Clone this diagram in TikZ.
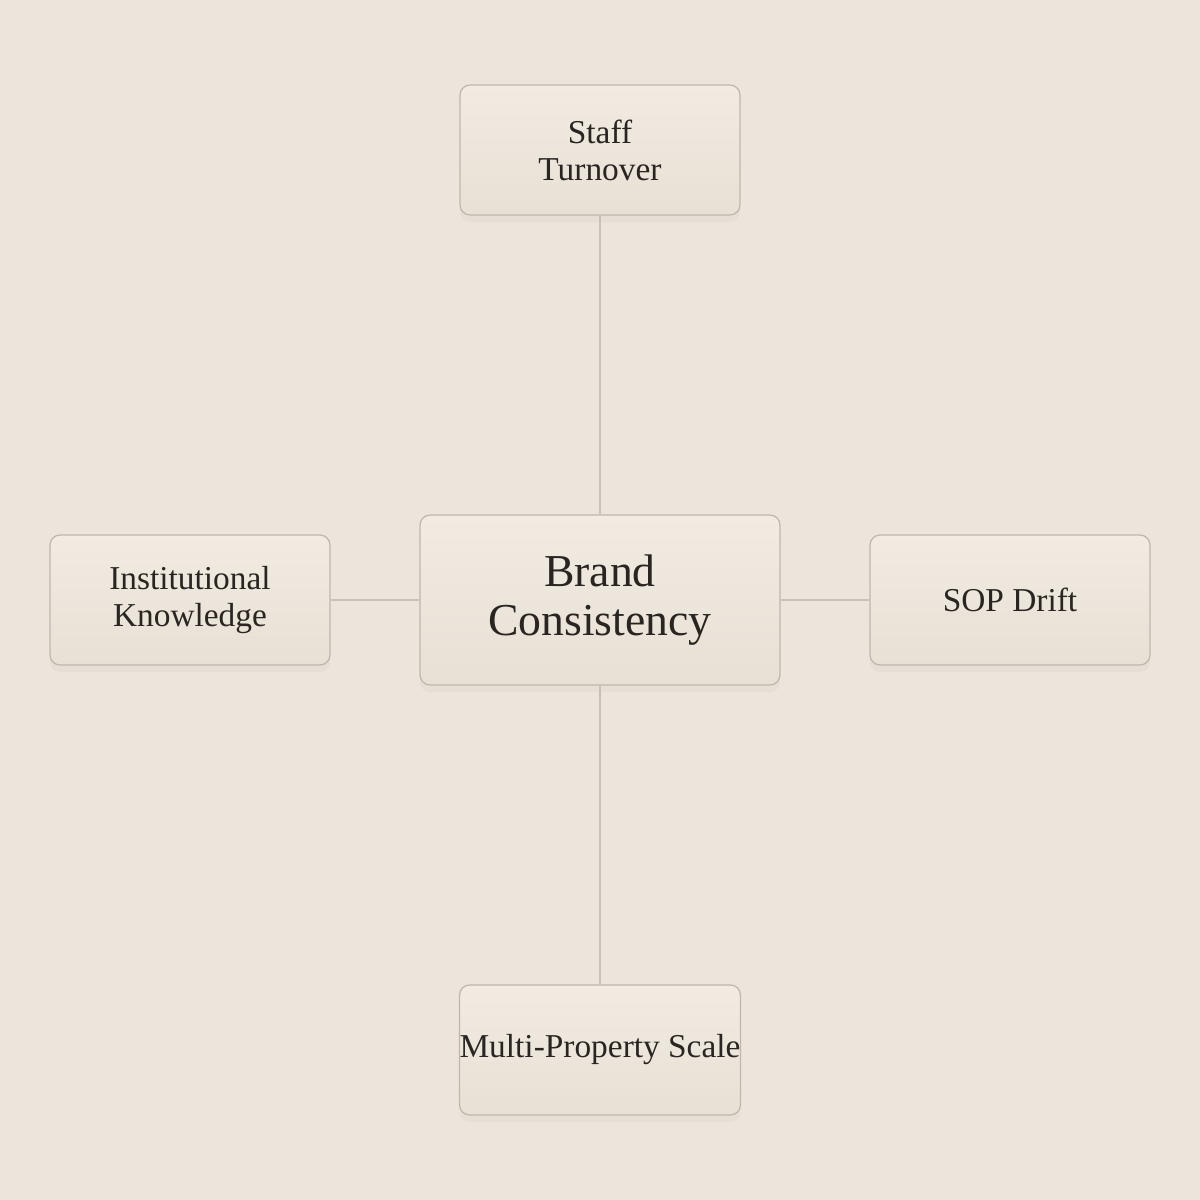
\documentclass[tikz,border=0pt]{standalone}
\usepackage{fontspec}
\setmainfont{Liberation Serif}
\usetikzlibrary{positioning,shadows}

\definecolor{paper}{HTML}{EDE5DC}
\definecolor{boxtop}{HTML}{F1EBE2}
\definecolor{boxbot}{HTML}{E8E0D5}
\definecolor{boxline}{HTML}{BFB7AD}
\definecolor{wire}{HTML}{C9C1B7}
\definecolor{ink}{HTML}{2A2521}

\begin{document}
\begin{tikzpicture}[x=0.02cm,y=-0.02cm,
    factor/.style={draw=boxline,line width=0.7pt,rounded corners=0.2cm,
        top color=boxtop,bottom color=boxbot,
        drop shadow={opacity=0.06,shadow xshift=0pt,shadow yshift=-4pt},
        minimum width=5.6cm,minimum height=2.6cm,inner sep=0pt,
        align=center,text=ink,font=\fontsize{19}{21}\selectfont},
    core/.style={factor,minimum width=7.2cm,minimum height=3.4cm,
        font=\fontsize{26}{27.5}\selectfont},
    wire/.style={draw=wire,line width=0.7pt}]
    \useasboundingbox (0,0) rectangle (1200,1200);
    \fill[paper] (0,0) rectangle (1200,1200);
    \node[core] at (600,600) (bc) {Brand\\Consistency};
    \node[factor] at (600,150) (st) {Staff\\Turnover};
    \node[factor] at (190,600) (ik) {Institutional\\Knowledge};
    \node[factor] at (1010,600) (sd) {SOP Drift};
    \node[factor] at (600,1050) (mp) {Multi-Property Scale};
    \path[wire] (st) edge (bc);
    \path[wire] (ik) edge (bc);
    \path[wire] (sd) edge (bc);
    \path[wire] (mp) edge (bc);
\end{tikzpicture}
\end{document}
